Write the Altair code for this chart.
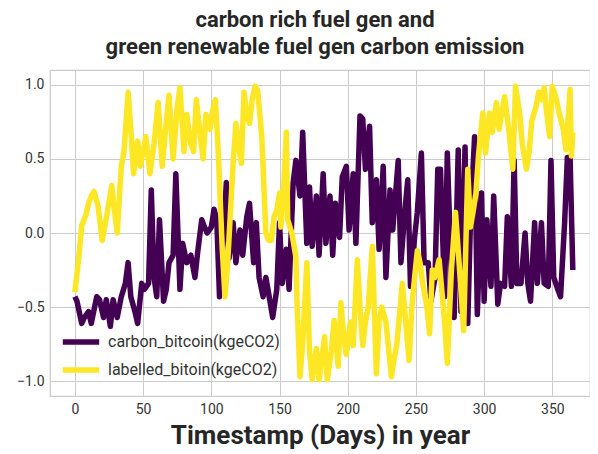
import altair as alt
import pandas as pd

carbon_days = [0, 1.5, 5, 7, 10, 12, 16, 18, 21, 23, 26, 28, 31, 34, 37, 39, 41, 44, 46, 49, 51, 54, 56, 58, 60,
               62, 65, 67, 69, 72, 74, 77, 79, 82, 85, 88, 90, 93, 95, 97, 100, 102, 104, 106, 108, 111, 113, 116,
               118, 121, 123, 126, 128, 131, 133, 135, 138, 140, 143, 145, 148, 150, 152, 155, 157, 160, 162, 165,
               167, 170, 172, 174, 177, 179, 182, 184, 187, 189, 191, 194, 196, 199, 201, 204, 206, 209, 211, 213,
               216, 218, 221, 223, 226, 228, 231, 233, 237, 239, 242, 244, 246, 249, 251, 254, 256, 259, 261, 264,
               266, 268, 271, 273, 276, 278, 281, 283, 286, 288, 290, 293, 295, 298, 300, 302, 305, 307, 310, 312,
               315, 317, 320, 322, 324, 327, 330, 332, 334, 337, 339, 342, 344, 347, 349, 351, 354, 356, 359, 361,
               363, 365]
carbon_vals = [-0.43, -0.46, -0.61, -0.57, -0.53, -0.61, -0.43, -0.45, -0.57, -0.45, -0.63, -0.45, -0.57, -0.43,
               -0.34, -0.2, -0.43, -0.53, -0.61, -0.34, -0.38, -0.34, 0.29, -0.3, -0.43, 0.09, -0.46, -0.38, -0.2,
               -0.15, 0.4, -0.38, -0.07, -0.2, -0.15, -0.3, -0.13, 0.09, 0.04, 0.0, 0.04, 0.16, 0.09, -0.43, -0.15,
               0.34, -0.17, 0.07, -0.2, 0.02, -0.15, 0.11, 0.2, -0.2, 0.07, -0.3, -0.43, -0.3, -0.46, -0.57, -0.38,
               0.07, -0.34, -0.11, -0.38, 0.34, 0.49, 0.25, 0.68, -0.07, 0.31, -0.09, 0.25, -0.15, 0.4, -0.07, 0.25,
               -0.15, 0.2, -0.03, 0.38, 0.45, 0.02, 0.4, -0.07, 0.79, 0.77, 0.43, 0.72, 0.07, 0.36, -0.11, 0.45,
               -0.3, 0.29, 0.02, 0.49, -0.2, 0.16, 0.36, -0.36, -0.03, 0.14, 0.54, -0.2, -0.2, -0.46, -0.3, 0.43,
               0.43, -0.43, 0.54, -0.3, -0.57, 0.56, -0.53, 0.58, -0.61, 0.09, 0.65, -0.55, 0.27, -0.46, 0.09,
               -0.36, 0.25, -0.48, -0.34, -0.36, 0.11, -0.36, 0.49, -0.34, -0.34, 0.0, -0.34, -0.46, 0.07, -0.34,
               0.07, -0.34, -0.36, 0.49, -0.3, -0.38, -0.43, 0.07, 0.51, 0.51, -0.25]

label_days = [0, 3, 5, 8, 10, 12, 14, 17, 20, 23, 27, 29, 31, 34, 36, 39, 41, 43, 46, 48, 52, 55, 58, 61, 64,
              67, 69, 72, 75, 77, 80, 82, 85, 87, 89, 92, 94, 96, 99, 101, 103, 105, 108, 110, 112, 116, 118, 120,
              122, 124, 126, 128, 130, 132, 134, 137, 140, 142, 144, 146, 148, 150, 151, 153, 155, 156, 159, 162,
              163, 165, 167, 170, 172, 174, 177, 179, 181, 183, 185, 188, 190, 193, 195, 197, 199, 202, 204, 207,
              209, 211, 213, 215, 218, 221, 223, 225, 228, 232, 234, 236, 240, 242, 245, 247, 249, 251, 253, 255,
              258, 260, 262, 264, 267, 269, 271, 273, 276, 279, 282, 285, 288, 290, 292, 294, 296, 299, 301, 304,
              306, 309, 311, 315, 318, 321, 323, 326, 328, 331, 333, 335, 338, 340, 342, 344, 346, 348, 350, 353,
              355, 358, 360, 363, 364, 365]
label_vals = [-0.4, -0.15, 0.05, 0.12, 0.2, 0.25, 0.28, 0.18, -0.05, 0.1, 0.32, 0.15, 0.0, 0.45, 0.55, 0.95, 0.7,
              0.4, 0.62, 0.45, 0.65, 0.4, 0.6, 0.88, 0.45, 0.75, 0.93, 0.5, 0.85, 0.98, 0.55, 0.8, 0.6, 0.55, 0.9,
              0.65, 0.5, 0.8, 0.7, 0.83, 0.9, 0.56, -0.1, -0.43, -0.2, 0.47, 0.74, 0.6, 0.47, 0.95, 0.8, 0.74, 0.9,
              0.99, 0.96, 0.65, 0.0, -0.05, -0.05, 0.11, 0.15, 0.27, 0.04, 0.3, 0.68, 0.09, 0.0, -0.16, -0.52,
              -0.97, -0.74, -0.2, -0.8, -0.99, -0.78, -0.99, -0.85, -0.7, -0.99, -0.8, -0.59, -0.9, -0.47, -0.7,
              -0.82, -0.6, -0.76, -0.18, -0.5, -0.76, -0.6, -0.5, -0.09, -0.95, -0.59, -0.5, -0.6, -0.97, -0.85,
              -0.75, -0.34, -0.55, -0.86, -0.5, -0.3, -0.12, -0.2, -0.34, -0.5, -0.68, -0.25, -0.3, -0.18, -0.39,
              -0.6, -0.88, -0.25, 0.14, -0.25, -0.66, 0.43, 0.04, 0.15, 0.27, 0.54, 0.81, 0.54, 0.81, 0.68, 0.88,
              0.7, 0.92, 0.7, 0.43, 0.99, 0.81, 0.6, 0.43, 0.55, 0.76, 0.85, 0.95, 0.9, 0.98, 0.8, 0.65, 0.99, 0.9,
              0.81, 0.7, 0.56, 0.97, 0.52, 0.68]

series_names = ["carbon_bitcoin(kgeCO2)", "labelled_bitoin(kgeCO2)"]
series_colors = ["#440154", "#fde725"]
x_ticks = [0, 50, 100, 150, 200, 250, 300, 350]
y_ticks = [-1.0, -0.5, 0.0, 0.5, 1.0]

df = pd.concat([
    pd.DataFrame({"day": carbon_days, "value": carbon_vals, "series": series_names[0]}),
    pd.DataFrame({"day": label_days, "value": label_vals, "series": series_names[1]}),
], ignore_index=True)

FONT = "Roboto"

chart = alt.Chart(df).mark_line(strokeWidth=5.5, strokeJoin="round", strokeCap="butt").encode(
    x=alt.X("day:Q", scale=alt.Scale(domain=[-18.25, 377.6], nice=False, zero=False),
            axis=alt.Axis(values=x_ticks, title="Timestamp (Days) in year", format="d")),
    y=alt.Y("value:Q", scale=alt.Scale(domain=[-1.1, 1.1], nice=False),
            axis=alt.Axis(values=y_ticks, title=None, format=".1f")),
    color=alt.Color("series:N", scale=alt.Scale(domain=series_names, range=series_colors),
                    legend=alt.Legend(title=None, orient="none", legendX=14, legendY=255,
                                      symbolType="M-1.3,0H1.3", symbolSize=784, symbolStrokeWidth=5.5,
                                      labelFontSize=16, labelColor="#333333", labelFont=FONT,
                                      labelOffset=10, labelLimit=400, rowPadding=0, padding=0)),
    order=alt.Order("day:Q"),
).properties(
    width=540, height=326,
    autosize="none",
    padding={"left": 42, "top": 62, "right": 0, "bottom": 56},
    background="white",
    title=alt.TitleParams(
        text=["carbon rich fuel gen and", "green renewable fuel gen carbon emission"],
        fontSize=22, font=FONT, fontWeight="bold", color="#262626",
        lineHeight=27, offset=11, anchor="middle", frame="group", dx=-5,
    ),
).configure_view(
    stroke="#cccccc", strokeWidth=1.25, fill="white"
).configure_axis(
    domain=False, ticks=False, grid=True, gridColor="#cccccc", gridWidth=1,
    labelFontSize=14, labelColor="#333333", labelFont=FONT, labelPadding=6,
    titleFont=FONT, titleFontSize=26, titleFontWeight="bold", titleColor="#262626", titlePadding=6,
)

chart.save("out.html", embed_options={"renderer": "svg", "actions": False})
